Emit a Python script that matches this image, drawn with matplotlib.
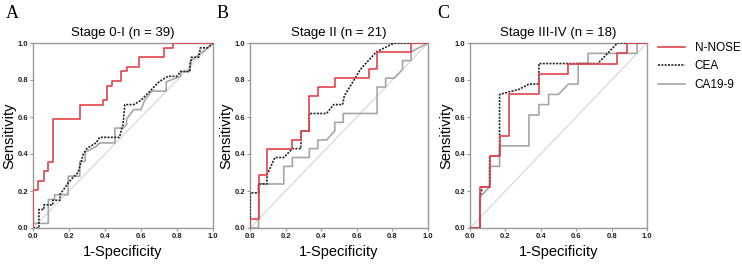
import matplotlib
matplotlib.use("Agg")
import matplotlib.pyplot as plt
from matplotlib.lines import Line2D

# ---------------- data (ROC step curves: 1-specificity, sensitivity) ----------------
titles = ["Stage 0-I (n = 39)", "Stage II (n = 21)", "Stage III-IV (n = 18)"]
panel_letters = ["A", "B", "C"]
series_names = ["N-NOSE", "CEA", "CA19-9"]

# Panel A
a_nnose_x = [0, 0, 0.03, 0.03, 0.06, 0.06, 0.085, 0.085, 0.11, 0.11, 0.26, 0.26, 0.39, 0.39, 0.41, 0.41,
             0.44, 0.44, 0.49, 0.49, 0.52, 0.52, 0.59, 0.59, 0.725, 0.725, 0.777, 0.777, 1.0]
a_nnose_y = [0, 0.205, 0.205, 0.256, 0.256, 0.308, 0.308, 0.359, 0.359, 0.59, 0.59, 0.667, 0.667, 0.692, 0.692, 0.769,
             0.769, 0.795, 0.795, 0.846, 0.846, 0.872, 0.872, 0.923, 0.923, 0.974, 0.974, 1.0, 1.0]
a_cea_x = [0, 0.033, 0.033, 0.06, 0.06, 0.11, 0.11, 0.15, 0.15, 0.2, 0.25, 0.28, 0.3, 0.35, 0.37, 0.48,
           0.5, 0.51, 0.56, 0.6, 0.65, 0.7, 0.75, 0.8, 0.82, 0.87, 0.88, 0.92, 0.93, 0.97, 1.0]
a_cea_y = [0, 0, 0.10, 0.10, 0.125, 0.125, 0.15, 0.15, 0.18, 0.25, 0.30, 0.40, 0.43, 0.46, 0.49, 0.49,
           0.56, 0.667, 0.667, 0.69, 0.74, 0.79, 0.82, 0.82, 0.846, 0.846, 0.923, 0.923, 0.974, 0.974, 1.0]
a_ca_x = [0, 0, 0.085, 0.085, 0.12, 0.12, 0.13, 0.195, 0.195, 0.26, 0.26, 0.29, 0.29, 0.35, 0.37, 0.455,
          0.455, 0.5, 0.52, 0.52, 0.54, 0.56, 0.6, 0.62, 0.66, 0.74, 0.74, 0.82, 0.82, 0.87, 0.87, 0.97, 1.0]
a_ca_y = [0, 0.025, 0.025, 0.154, 0.154, 0.18, 0.18, 0.18, 0.28, 0.28, 0.36, 0.36, 0.41, 0.44, 0.46, 0.46,
          0.54, 0.54, 0.56, 0.59, 0.615, 0.64, 0.64, 0.69, 0.74, 0.74, 0.79, 0.82, 0.846, 0.846, 0.897, 0.974, 1.0]

# Panel B
b_nnose_x = [0, 0, 0.048, 0.048, 0.095, 0.095, 0.238, 0.238, 0.286, 0.286, 0.333, 0.333, 0.381, 0.381,
             0.476, 0.476, 0.667, 0.667, 0.714, 0.714, 0.905, 0.905, 1.0]
b_nnose_y = [0, 0.048, 0.048, 0.286, 0.286, 0.429, 0.429, 0.476, 0.476, 0.524, 0.524, 0.714, 0.714, 0.762,
             0.762, 0.810, 0.810, 0.857, 0.857, 0.952, 0.952, 1.0, 1.0]
b_cea_x = [0, 0, 0.048, 0.048, 0.095, 0.095, 0.14, 0.19, 0.238, 0.286, 0.286, 0.333, 0.333, 0.43,
           0.47, 0.52, 0.53, 0.62, 0.71, 0.81, 1.0]
b_cea_y = [0, 0.19, 0.19, 0.238, 0.238, 0.286, 0.381, 0.381, 0.429, 0.429, 0.524, 0.524, 0.619, 0.619,
           0.667, 0.667, 0.714, 0.857, 0.952, 1.0, 1.0]
b_ca_x = [0, 0.048, 0.048, 0.19, 0.19, 0.238, 0.238, 0.333, 0.333, 0.381, 0.381, 0.43, 0.476, 0.476,
          0.524, 0.524, 0.714, 0.714, 0.762, 0.762, 0.81, 0.857, 0.857, 0.905, 0.905, 1.0]
b_ca_y = [0, 0, 0.238, 0.238, 0.333, 0.333, 0.381, 0.381, 0.429, 0.429, 0.476, 0.476, 0.524, 0.571,
          0.571, 0.619, 0.619, 0.762, 0.762, 0.81, 0.81, 0.857, 0.905, 0.905, 0.952, 1.0]

# Panel C
c_nnose_x = [0, 0.056, 0.056, 0.111, 0.111, 0.167, 0.167, 0.222, 0.222, 0.389, 0.389, 0.556, 0.556,
             0.833, 0.833, 0.889, 0.889, 1.0]
c_nnose_y = [0, 0, 0.222, 0.222, 0.389, 0.389, 0.5, 0.5, 0.722, 0.722, 0.833, 0.833, 0.889,
             0.889, 0.944, 0.944, 1.0, 1.0]
c_cea_x = [0, 0.056, 0.056, 0.07, 0.111, 0.111, 0.167, 0.167, 0.278, 0.333, 0.389, 0.389, 0.722, 0.833, 1.0]
c_cea_y = [0, 0, 0.167, 0.222, 0.222, 0.389, 0.389, 0.722, 0.75, 0.778, 0.778, 0.889, 0.889, 1.0, 1.0]
c_ca_x = [0, 0.056, 0.056, 0.111, 0.111, 0.167, 0.167, 0.333, 0.333, 0.389, 0.389, 0.444, 0.444, 0.5,
          0.556, 0.611, 0.611, 0.667, 0.667, 0.944, 0.944, 1.0]
c_ca_y = [0, 0, 0.167, 0.222, 0.333, 0.333, 0.444, 0.444, 0.611, 0.611, 0.667, 0.667, 0.722, 0.722,
          0.778, 0.778, 0.889, 0.889, 0.944, 0.944, 1.0, 1.0]

panels = [
    ((a_nnose_x, a_nnose_y), (a_cea_x, a_cea_y), (a_ca_x, a_ca_y)),
    ((b_nnose_x, b_nnose_y), (b_cea_x, b_cea_y), (b_ca_x, b_ca_y)),
    ((c_nnose_x, c_nnose_y), (c_cea_x, c_cea_y), (c_ca_x, c_ca_y)),
]
ticks = [0.0, 0.2, 0.4, 0.6, 0.8, 1.0]
tick_labels = ["0.0", "0.2", "0.4", "0.6", "0.8", "1.0"]

# ---------------- styling ----------------
plt.rcParams['font.family'] = ['Liberation Sans', 'DejaVu Sans']
W, H = 742, 264
fig = plt.figure(figsize=(W / 100, H / 100), dpi=100)

red = '#e3434a'
gray = '#a6a6a6'
spine_c = '#9a9a9a'
axes_px = [(33, 180), (250, 178), (470, 177)]
top_px, bot_px = 43, 228
letter_x = [6, 217, 437]

for i, (ax_left, ax_w) in enumerate(axes_px):
    ax = fig.add_axes([ax_left / W, 1 - bot_px / H, ax_w / W, (bot_px - top_px) / H])
    ax.plot([0, 1], [0, 1], color='#d4d4d4', lw=0.8, zorder=1)
    (rx, ry), (cx, cy), (gx, gy) = panels[i]
    ax.plot(gx, gy, color=gray, lw=1.2, zorder=2)
    ax.plot(cx, cy, color='#222222', lw=1.2, ls=(0, (1.2, 0.8)), zorder=3)
    ax.plot(rx, ry, color=red, lw=1.2, zorder=4)
    ax.set_xlim(0, 1)
    ax.set_ylim(0, 1)
    ax.set_xticks(ticks)
    ax.set_xticklabels(tick_labels)
    ax.set_yticks(ticks)
    ax.set_yticklabels(tick_labels)
    ax.tick_params(axis='both', labelsize=5.5, length=2, width=0.8, color=spine_c, pad=1.5)
    for lab in ax.get_xticklabels() + ax.get_yticklabels():
        lab.set_fontweight('bold')
        lab.set_color('#222222')
    for sp in ax.spines.values():
        sp.set_color(spine_c)
        sp.set_linewidth(1.0)
    ax.set_xlabel("1-Specificity", fontsize=10.5, labelpad=4)
    ax.set_ylabel("Sensitivity", fontsize=10.5, labelpad=1)
    ax.set_title(titles[i], fontsize=9.5, pad=5)
    fig.text(letter_x[i] / W, 1 - 5 / H, panel_letters[i], fontsize=13,
             family=['Liberation Serif', 'DejaVu Serif'], va='top', ha='left')

handles = [Line2D([], [], color=red, lw=1.2),
           Line2D([], [], color='#222222', lw=1.2, ls=(0, (1.2, 0.8))),
           Line2D([], [], color=gray, lw=1.2)]
fig.legend(handles, series_names, loc='upper left', bbox_to_anchor=(658 / W, 1 - 42 / H),
           frameon=False, fontsize=8.5, handlelength=2.3, handletextpad=0.8, labelspacing=0.55,
           borderaxespad=0, borderpad=0)

fig.savefig("out.png", dpi=100)
